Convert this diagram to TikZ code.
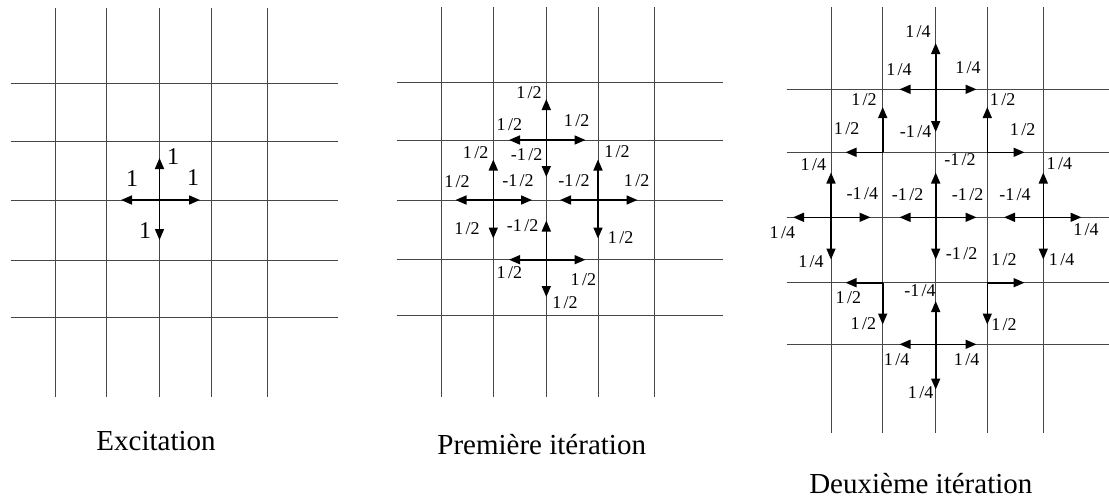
\documentclass[tikz,border=0pt]{standalone}
\usepackage{fontspec}
\setmainfont{Liberation Serif}
\usetikzlibrary{arrows.meta}
\newcommand{\hf}{1\kern2.5pt/2}
\newcommand{\qf}{1\kern2.5pt/4}
\newcommand{\mhf}{-1\kern2.5pt/2}
\newcommand{\mqf}{-1\kern2.5pt/4}
\begin{document}
\begin{tikzpicture}[x=1pt,y=-1pt,
  gridline/.style={line width=0.9pt,draw=black!72},
  arr/.style={line width=1.6pt,-{Triangle[length=11pt,width=9pt]}},
  lab/.style={inner sep=0pt,font=\fontsize{18}{18}\selectfont},
  biglab/.style={inner sep=0pt,font=\fontsize{24}{24}\selectfont},
  captxt/.style={inner sep=0pt,anchor=base,font=\fontsize{29}{29}\selectfont}]
\useasboundingbox[fill=white] (0,0) rectangle (1109,498);
% ---------------- Panel 1 ----------------
\foreach \x in {55,106.5,159.5,211,267} \draw[gridline] (\x,7.5) -- (\x,397);
\foreach \y in {83.5,141,200,260,317} \draw[gridline] (10.5,\y) -- (337.5,\y);
\coordinate (a0) at (159.5,200);
\draw[arr] (a0) -- (159.5,158);
\draw[arr] (a0) -- (159.5,240);
\draw[arr] (a0) -- (121,200);
\draw[arr] (a0) -- (200,200);
\node[biglab] (a1) at (173,157) {1};
\node[biglab] (a2) at (132,179) {1};
\node[biglab] (a3) at (193,178) {1};
\node[biglab] (a4) at (145,231) {1};
\node[captxt] (c1) at (156,450) {Excitation};
% ---------------- Panel 2 ----------------
\foreach \x in {441.7,493.3,546.3,598,654} \draw[gridline] (\x,7) -- (\x,397);
\foreach \y in {82.7,140,200,259.7,315.7} \draw[gridline] (396.7,\y) -- (723,\y);
\coordinate (bt) at (546.3,140);
\coordinate (bl) at (493.3,200);
\coordinate (br) at (598,200);
\coordinate (bb) at (546.3,259.7);
\draw[arr] (bt) -- (546.3,99);
\draw[arr] (bt) -- (546.3,177);
\draw[arr] (bt) -- (509,140);
\draw[arr] (bt) -- (585.5,140);
\draw[arr] (bl) -- (493.3,159.5);
\draw[arr] (bl) -- (493.3,238.5);
\draw[arr] (bl) -- (455.5,200);
\draw[arr] (bl) -- (532,200);
\draw[arr] (br) -- (598,159.5);
\draw[arr] (br) -- (598,238.5);
\draw[arr] (br) -- (560,200);
\draw[arr] (br) -- (637.5,200);
\draw[arr] (bb) -- (546.3,220.5);
\draw[arr] (bb) -- (546.3,297);
\draw[arr] (bb) -- (509,259.7);
\draw[arr] (bb) -- (585.5,259.7);
\node[lab] (b1) at (529,93) {\hf};
\node[lab] (b2) at (509.3,125) {\hf};
\node[lab] (b3) at (576.7,121) {\hf};
\node[lab] (b4) at (526.7,155) {\mhf};
\node[lab] (b5) at (475.7,153) {\hf};
\node[lab] (b6) at (617,152) {\hf};
\node[lab] (b7) at (457,182) {\hf};
\node[lab] (b8) at (518,181) {\mhf};
\node[lab] (b9) at (574,181) {\mhf};
\node[lab] (b10) at (636.7,181) {\hf};
\node[lab] (b11) at (467,229) {\hf};
\node[lab] (b12) at (522.7,226) {\mhf};
\node[lab] (b13) at (620.7,238) {\hf};
\node[lab] (b14) at (509.3,273) {\hf};
\node[lab] (b15) at (583.3,280) {\hf};
\node[lab] (b16) at (565,303) {\hf};
\node[captxt] (c2) at (541.7,454) {Première itération};
% ---------------- Panel 3 ----------------
\foreach \x in {831,882.7,935.7,987.3,1043.3} \draw[gridline] (\x,7) -- (\x,433);
\foreach \y in {89.3,152.3,217.3,282.7,344.3} \draw[gridline] (786.7,\y) -- (1109,\y);
\coordinate (ct) at (935.7,89.3);
\coordinate (cul) at (882.7,152.3);
\coordinate (cur) at (987.3,152.3);
\coordinate (cc) at (935.7,217.3);
\coordinate (cl) at (831,217.3);
\coordinate (cr) at (1043.3,217.3);
\coordinate (cdl) at (882.7,282.7);
\coordinate (cdr) at (987.3,282.7);
\coordinate (cb) at (935.7,344.3);
\draw[arr] (ct) -- (935.7,43);
\draw[arr] (ct) -- (935.7,132);
\draw[arr] (ct) -- (899.5,89.3);
\draw[arr] (ct) -- (976.5,89.3);
\draw[arr] (cul) -- (882.7,107);
\draw[arr] (cul) -- (845.5,152.3);
\draw[arr] (cur) -- (987.3,107);
\draw[arr] (cur) -- (1024.5,152.3);
\draw[arr] (cc) -- (935.7,172.5);
\draw[arr] (cc) -- (935.7,259.5);
\draw[arr] (cc) -- (899.5,217.3);
\draw[arr] (cc) -- (976.5,217.3);
\draw[arr] (cl) -- (831,172.5);
\draw[arr] (cl) -- (831,259.5);
\draw[arr] (cl) -- (793,217.3);
\draw[arr] (cl) -- (870.5,217.3);
\draw[arr] (cr) -- (1043.3,172.5);
\draw[arr] (cr) -- (1043.3,259.5);
\draw[arr] (cr) -- (1004,217.3);
\draw[arr] (cr) -- (1081.5,217.3);
\draw[arr] (cdl) -- (845.5,282.7);
\draw[arr] (cdl) -- (882.7,324.5);
\draw[arr] (cdr) -- (1024.5,282.7);
\draw[arr] (cdr) -- (987.3,324.5);
\draw[arr] (cb) -- (935.7,301);
\draw[arr] (cb) -- (935.7,389.5);
\draw[arr] (cb) -- (899.5,344.3);
\draw[arr] (cb) -- (976.5,344.3);
\node[lab] (d1) at (918,32) {\qf};
\node[lab] (d2) at (899,70) {\qf};
\node[lab] (d3) at (968,68) {\qf};
\node[lab] (d4) at (915.7,132) {\mqf};
\node[lab] (d5) at (864,99.3) {\hf};
\node[lab] (d6) at (846.7,128.3) {\hf};
\node[lab] (d7) at (1002.7,99.3) {\hf};
\node[lab] (d8) at (1022.7,130) {\hf};
\node[lab] (d9) at (960,160) {\mhf};
\node[lab] (d10) at (907.7,195) {\mhf};
\node[lab] (d11) at (967.7,195) {\mhf};
\node[lab] (d12) at (961.7,254) {\mhf};
\node[lab] (d13) at (813.3,165) {\qf};
\node[lab] (d14) at (782.3,232.7) {\qf};
\node[lab] (d15) at (862.3,193.3) {\mqf};
\node[lab] (d16) at (811,261.7) {\qf};
\node[lab] (d17) at (1059.3,164) {\qf};
\node[lab] (d18) at (1015,195) {\mqf};
\node[lab] (d19) at (1086,230) {\qf};
\node[lab] (d20) at (1061.7,260) {\qf};
\node[lab] (d21) at (848.3,297.7) {\hf};
\node[lab] (d22) at (863.3,323.3) {\hf};
\node[lab] (d23) at (1004,259.3) {\hf};
\node[lab] (d24) at (1004,325) {\hf};
\node[lab] (d25) at (920,291) {\mqf};
\node[lab] (d26) at (896.7,360) {\qf};
\node[lab] (d27) at (966.7,360) {\qf};
\node[lab] (d28) at (920.7,392.7) {\qf};
\node[captxt] (c3) at (920.8,493) {Deuxième itération};
\end{tikzpicture}
\end{document}
